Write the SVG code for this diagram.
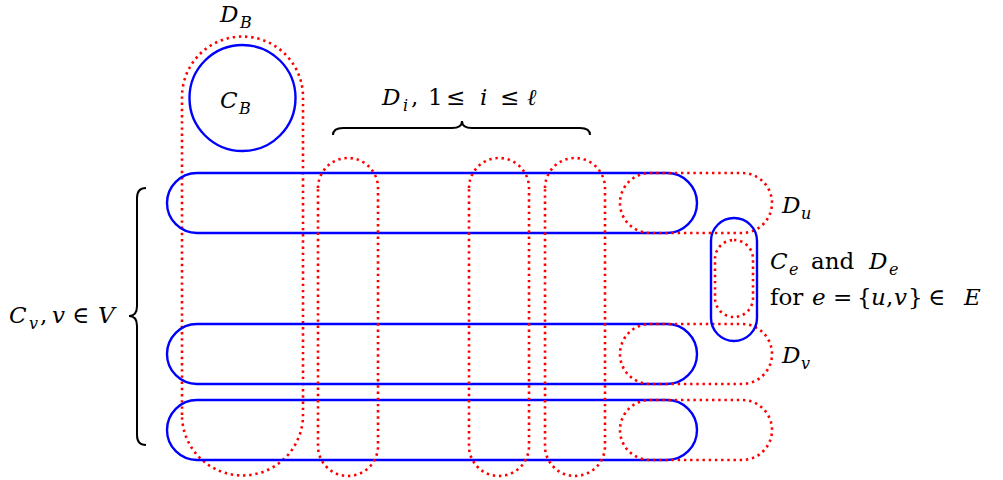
<svg xmlns="http://www.w3.org/2000/svg" width="1003" height="480" viewBox="0 0 1003 480">
<style>
.blue{fill:none;stroke:#0000ff;stroke-width:2.4}
.red{fill:none;stroke:#ff0000;stroke-width:2.6;stroke-dasharray:2.4 3.8}
.brace{fill:none;stroke:#000;stroke-width:2}
.t{font-family:"DejaVu Serif","Liberation Serif",serif;font-size:23px;fill:#000}
.i{font-style:italic}
.s{font-size:16px;font-style:italic}
</style>
<rect width="1003" height="480" fill="#fff"/>
<g id="CB"><circle class="blue" cx="242.5" cy="98" r="53"/></g>
<g id="DB"><path class="red" d="M182,415 V97 A60.5,60.5 0 0 1 303,97 V415 A60.5,60.5 0 0 1 182,415 Z"/></g>
<g id="Cv1"><path class="blue" d="M197,173 H667 A30,30 0 0 1 667,233 H197 A30,30 0 0 1 197,173 Z"/></g>
<g id="Cv2"><path class="blue" d="M197,324 H667 A30,30 0 0 1 667,384 H197 A30,30 0 0 1 197,324 Z"/></g>
<g id="Cv3"><path class="blue" d="M197,400 H667 A30,30 0 0 1 667,460 H197 A30,30 0 0 1 197,400 Z"/></g>
<g id="D1"><path class="red" d="M318,188 A30,30 0 0 1 378,188 V446 A30,30 0 0 1 318,446 Z"/></g>
<g id="D2"><path class="red" d="M469,188 A30,30 0 0 1 529,188 V446 A30,30 0 0 1 469,446 Z"/></g>
<g id="D3"><path class="red" d="M545,188 A30,30 0 0 1 605,188 V446 A30,30 0 0 1 545,446 Z"/></g>
<g id="Du"><path class="red" d="M650,173 H742 A30,30 0 0 1 742,233 H650 A30,30 0 0 1 650,173 Z"/></g>
<g id="Dv"><path class="red" d="M650,324 H742 A30,30 0 0 1 742,384 H650 A30,30 0 0 1 650,324 Z"/></g>
<g id="Dw"><path class="red" d="M650,400 H742 A30,30 0 0 1 742,460 H650 A30,30 0 0 1 650,400 Z"/></g>
<g id="Ce"><rect class="blue" x="711" y="218" width="46" height="123" rx="23" ry="23"/></g>
<g id="De"><rect class="red" x="715" y="240" width="38" height="77" rx="19" ry="19"/></g>
<g id="connectors">
<path class="brace" d="M333,135 Q333,128 343,128 H452 Q462,128 462,121 Q462,128 472,128 H580 Q590,128 590,135"/>
<path class="brace" d="M146,188 Q137,188 137,198 V306 Q137,316 129,316 Q137,316 137,326 V435 Q137,445 146,445"/>
</g>
<g id="labels">
<text class="t" x="220" y="22"><tspan class="i">D</tspan><tspan class="s" x="240" dy="6">B</tspan></text>
<text class="t" x="220" y="108"><tspan class="i">C</tspan><tspan class="s" x="239" dy="6">B</tspan></text>
<text class="t" x="382" y="105"><tspan class="i">D</tspan><tspan class="s" x="403" dy="6">i</tspan><tspan x="411" dy="-6">,</tspan><tspan x="428">1</tspan><tspan x="446">≤</tspan><tspan class="i" x="480">i</tspan><tspan x="500">≤</tspan><tspan class="i" x="527">ℓ</tspan></text>
<text class="t" x="782" y="213"><tspan class="i">D</tspan><tspan class="s" x="801" dy="6">u</tspan></text>
<text class="t" x="770" y="269"><tspan class="i">C</tspan><tspan class="s" x="789" dy="6">e</tspan><tspan x="811" dy="-6">and</tspan><tspan class="i" x="869">D</tspan><tspan class="s" x="889" dy="6">e</tspan></text>
<text class="t" x="770" y="305"><tspan>for</tspan><tspan class="i" x="812">e</tspan><tspan x="833">=</tspan><tspan x="857">{</tspan><tspan class="i" x="871">u</tspan><tspan x="886">,</tspan><tspan class="i" x="894">v</tspan><tspan x="908">}</tspan><tspan x="928">∈</tspan><tspan class="i" x="964">E</tspan></text>
<text class="t" x="782" y="363"><tspan class="i">D</tspan><tspan class="s" x="801" dy="6">v</tspan></text>
<text class="t" x="9" y="323"><tspan class="i">C</tspan><tspan class="s" x="29" dy="6">v</tspan><tspan x="40" dy="-6">,</tspan><tspan class="i" x="52">v</tspan><tspan x="72">∈</tspan><tspan class="i" x="98">V</tspan></text>
</g>
</svg>
